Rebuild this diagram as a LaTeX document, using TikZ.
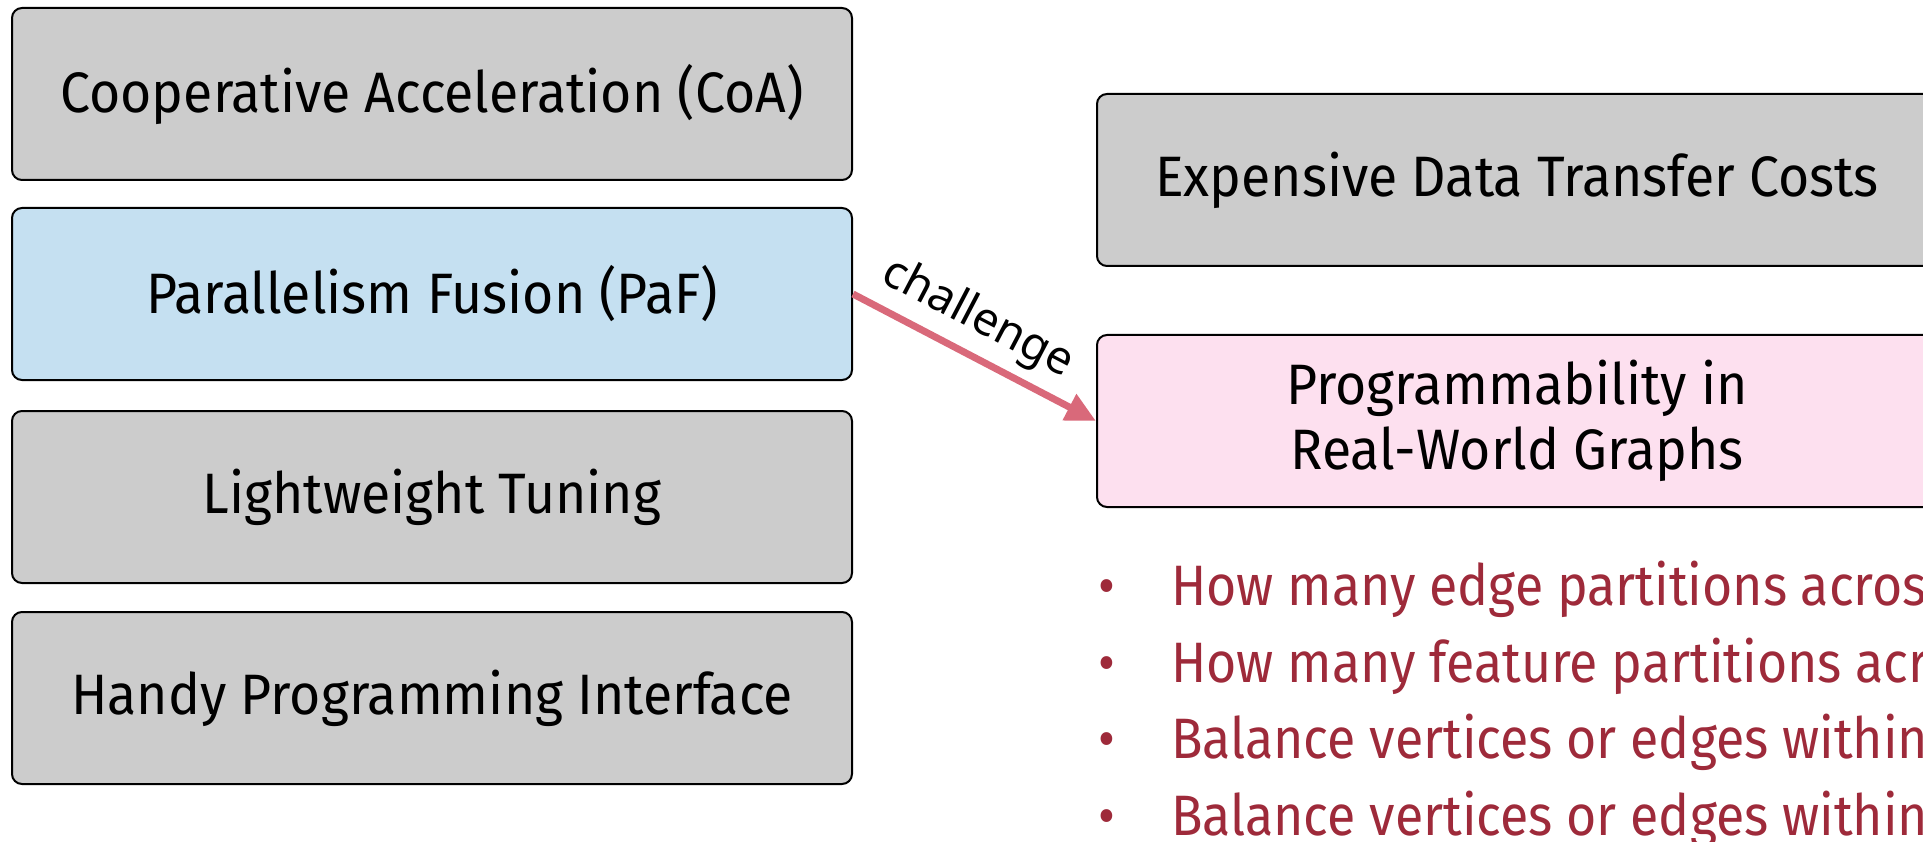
\documentclass[tikz,border=0pt]{standalone}
\usepackage{fontspec}
\setmainfont{Fira Sans}[FakeStretch=0.93]
\newfontfamily\boxfont{Fira Sans}[FakeStretch=0.94]
\newfontfamily\listfont{Fira Sans}[FakeStretch=0.91]
\newfontfamily\labelfont{Noto Sans}
\usetikzlibrary{arrows.meta}
\definecolor{boxgray}{RGB}{204,204,204}
\definecolor{boxblue}{RGB}{197,224,241}
\definecolor{boxpink}{RGB}{253,224,239}
\definecolor{arrowred}{RGB}{217,105,122}
\definecolor{bulletred}{RGB}{158,42,58}
\begin{document}
\begin{tikzpicture}[x=1pt,y=-1pt,
  card/.style={draw=black, line width=2pt, rounded corners=10pt,
    minimum width=840pt, minimum height=172pt, inner sep=0pt,
    font=\boxfont\fontsize{57}{65}\selectfont, align=center},
  graycard/.style={card, fill=boxgray},
  bluecard/.style={card, fill=boxblue},
  pinkcard/.style={card, fill=boxpink},
  bullettext/.style={anchor=base west, inner sep=0pt, text=bulletred,
    font=\listfont\fontsize{57}{66}\selectfont},
  bulletdot/.style={anchor=base, inner sep=0pt, text=bulletred,
    font=\listfont\fontsize{57}{66}\selectfont},
  challengearrow/.style={-{Triangle[length=30pt,width=28pt]}, line width=7pt, draw=arrowred},
  arrowlabel/.style={font=\labelfont\fontsize{46}{52}\selectfont, text=black, sloped, above=6pt}
]
\clip (0,0) rectangle (1923,842);
\node[graycard] (coa) at (432,94) {Cooperative Acceleration (CoA)};
\node[bluecard] (paf) at (432,294) {Parallelism Fusion (PaF)};
\node[graycard] (tune) at (432,497) {Lightweight Tuning};
\node[graycard] (api) at (432,698) {Handy Programming Interface};

\node[graycard] (cost) at (1517,180) {Expensive Data Transfer Costs};
\node[pinkcard] (prog) at (1517,421) {Programmability in\\Real-World Graphs};

\draw[challengearrow] (paf.east) -- node[arrowlabel, pos=0.445] {challenge} (prog.west);

\node[bulletdot] (b1) at (1107,605) {•};
\node[bullettext] (t1) at (1171,605) {How many edge partitions across};
\node[bulletdot] (b2) at (1107,682) {•};
\node[bullettext] (t2) at (1171,682) {How many feature partitions across};
\node[bulletdot] (b3) at (1107,758) {•};
\node[bullettext] (t3) at (1171,758) {Balance vertices or edges within};
\node[bulletdot] (b4) at (1107,835) {•};
\node[bullettext] (t4) at (1171,835) {Balance vertices or edges within};
\end{tikzpicture}
\end{document}
